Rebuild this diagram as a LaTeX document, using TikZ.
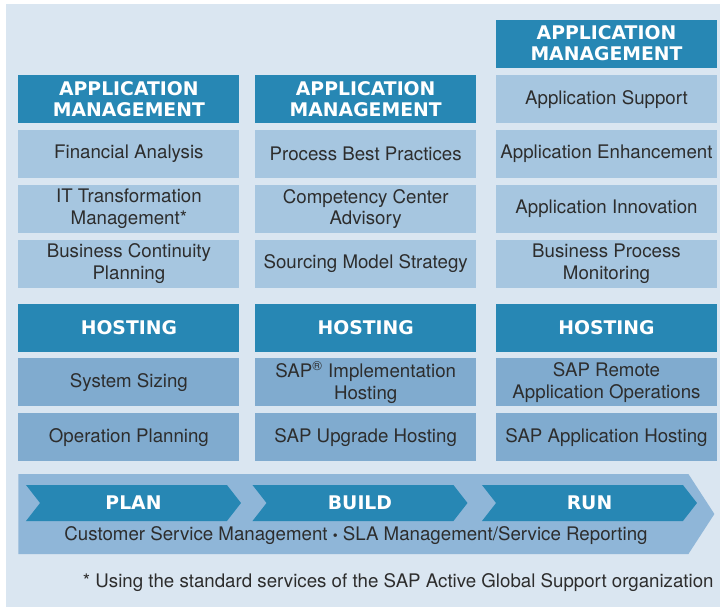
\documentclass[tikz,border=0pt]{standalone}
\usepackage{fontspec}
\setmainfont{TeX Gyre Heros}
\newfontfamily\headfont{DejaVu Sans}
\usepackage{xcolor}
\definecolor{headblue}{RGB}{39,135,180}
\definecolor{amrow}{RGB}{166,198,224}
\definecolor{horow}{RGB}{128,171,207}
\definecolor{bgblue}{RGB}{218,230,241}
\definecolor{bandblue}{RGB}{143,182,216}
\definecolor{textgrey}{RGB}{45,45,45}
\newlength{\hdist}
\newlength{\hdistlong}
\newlength{\vdist}
\newlength{\vdistlong}
\newlength{\vdistshort}
\usepackage{tikz}
\usetikzlibrary{positioning}
\usetikzlibrary{shapes.symbols}
\tikzstyle{hdr}=[fill=headblue, text=white, minimum width=110.5pt, minimum height=24pt, font=\headfont\bfseries\fontsize{9.4pt}{10.5pt}\selectfont]
\tikzstyle{amcell}=[fill=amrow, text=textgrey, minimum width=110.5pt, minimum height=24pt, font=\fontsize{9.35pt}{10.85pt}\selectfont]
\tikzstyle{hocell}=[amcell, fill=horow]
\tikzstyle{phasearrow}=[shape=signal, signal from=west, signal to=east, signal pointer angle=104, fill=headblue, text=white, minimum width=107.5pt, minimum height=18pt, font=\headfont\bfseries\fontsize{9.4pt}{10.5pt}\selectfont]
\tikzstyle{bandarrow}=[shape=signal, signal to=east, signal pointer angle=114, fill=bandblue, minimum width=348pt, minimum height=40pt]
\tikzstyle{plain}=[text=textgrey, font=\fontsize{9.35pt}{10.85pt}\selectfont]

\begin{document}
\begin{tikzpicture}[inner sep=0pt, align=center]
				
				\setlength{\hdist}{7.5pt}
				\setlength{\hdistlong}{9.5pt}
				\setlength{\vdist}{3pt}
				\setlength{\vdistlong}{7.5pt}
				\setlength{\vdistshort}{3.5pt}
				
				\useasboundingbox (0,0) rectangle (360pt,-303.5pt);
				\fill [bgblue] (3pt,-2pt) rectangle (360pt,-303.5pt);
				
				\node (am1) [hdr, anchor=north west] at (9pt,-37.5pt) {APPLICATION\\MANAGEMENT};
				\node (fa) [amcell, below=\vdist of am1] {Financial Analysis};
				\node (itm) [amcell, below=\vdist of fa] {IT Transformation\\Management*};
				\node (bcp) [amcell, below=\vdist of itm] {Business Continuity\\Planning};
				\node (ho1) [hdr, below=\vdistlong of bcp] {HOSTING};
				\node (ss) [hocell, below=\vdist of ho1] {System Sizing};
				\node (op) [hocell, below=\vdist of ss] {Operation Planning};
				
				\node (am2) [hdr, right=\hdist of am1] {APPLICATION\\MANAGEMENT};
				\node (pbp) [amcell, below=\vdist of am2] {Process Best Practices};
				\node (cca) [amcell, below=\vdist of pbp] {Competency Center\\Advisory};
				\node (sms) [amcell, below=\vdist of cca] {Sourcing Model Strategy};
				\node (ho2) [hdr, below=\vdistlong of sms] {HOSTING};
				\node (sih) [hocell, below=\vdist of ho2] {SAP\textsuperscript{\textregistered} Implementation\\Hosting};
				\node (suh) [hocell, below=\vdist of sih] {SAP Upgrade Hosting};
				
				\node (as) [amcell, right=\hdistlong of am2] {Application Support};
				\node (am3) [hdr, above=\vdistshort of as] {APPLICATION\\MANAGEMENT};
				\node (ae) [amcell, below=\vdist of as] {Application Enhancement};
				\node (ai) [amcell, below=\vdist of ae] {Application Innovation};
				\node (bpm) [amcell, below=\vdist of ai] {Business Process\\Monitoring};
				\node (ho3) [hdr, right=\hdistlong of ho2] {HOSTING};
				\node (srao) [hocell, below=\vdist of ho3] {SAP Remote\\Application Operations};
				\node (sah) [hocell, below=\vdist of srao] {SAP Application Hosting};
				
				\node (band) [bandarrow, anchor=west] at (9pt,-257pt) {};
				\node (plan) [phasearrow] at (66.75pt,-251.5pt) {PLAN};
				\node (build) [phasearrow] at (180pt,-251.5pt) {BUILD};
				\node (run) [phasearrow] at (294.75pt,-251.5pt) {RUN};
				\node (csm) [plain] at (178pt,-268pt) {Customer Service Management {\fontsize{7pt}{7pt}\selectfont\textbullet} SLA Management/Service Reporting};
				
				\node (note) [plain, anchor=east] at (357pt,-291.5pt) {* Using the standard services of the SAP Active Global Support organization};
				\end{tikzpicture}
\end{document}
